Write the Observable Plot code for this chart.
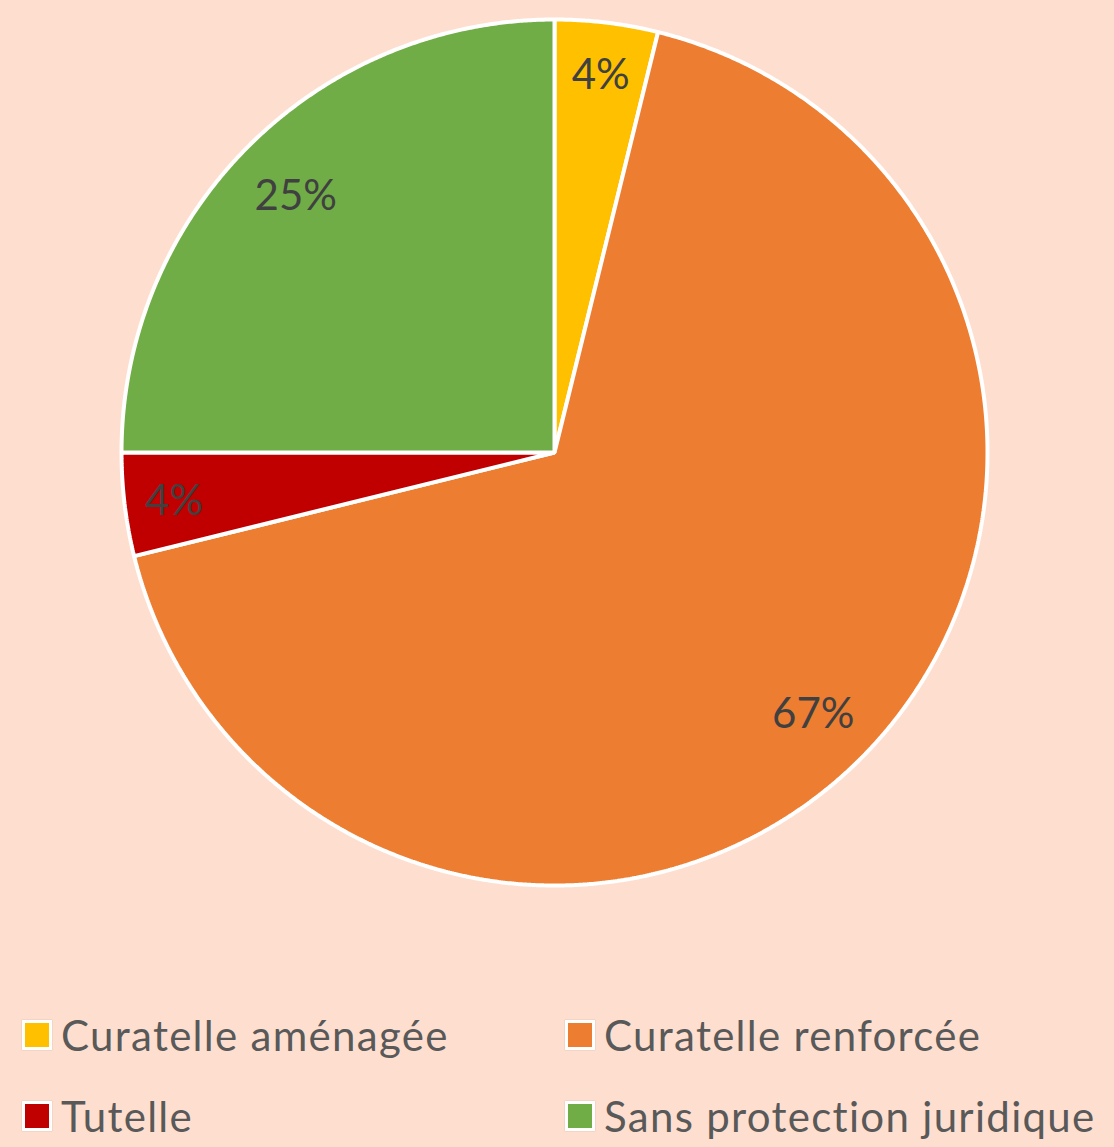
<!DOCTYPE html>
<html>
<head>
<meta charset="utf-8">
<script src="https://cdn.jsdelivr.net/npm/d3@7"></script>
<script src="https://cdn.jsdelivr.net/npm/@observablehq/plot@0.6"></script>
<style>
  html, body { margin: 0; padding: 0; background: #FEDFCF; }
  #wrap { position: relative; width: 1114px; height: 1147px; background: #FEDFCF; overflow: hidden; }
  #legend { position: relative; width: 1114px; height: 187px; font-family: Lato, "Open Sans", sans-serif; }
  .item { position: absolute; display: flex; align-items: center; font-size: 42px; letter-spacing: 1.3px; color: #595959; white-space: nowrap; }
  .sw { width: 24px; height: 24px; border: 3px solid #fff; box-sizing: content-box; margin-right: 9px; box-shadow: 0 0 1px rgba(0,0,0,0.25); }
</style>
</head>
<body>
<div id="wrap"><div id="chart"></div><div id="legend"></div></div>
<script>
const categories = ["Curatelle aménagée", "Curatelle renforcée", "Tutelle", "Sans protection juridique"];
const counts = [2, 35, 2, 13];
const labels = ["4%", "67%", "4%", "25%"];
const colors = ["#FFC000", "#ED7D31", "#C00000", "#70AD47"];

const W = 1114, H = 960, CX = 554, CY = 452, R = 433;

const data = categories.map((c, i) => ({category: c, value: counts[i], label: labels[i]}));
const total = d3.sum(counts);
const arcs = d3.pie().sort(null).value(d => d.value)(data);

// polygon vertices per slice (unit circle, angle clockwise from 12 o'clock)
const poly = [];
for (const a of arcs) {
  const cat = a.data.category;
  poly.push({category: cat, x: 0, y: 0});
  const n = Math.max(2, Math.ceil((a.endAngle - a.startAngle) / 0.005));
  for (let k = 0; k <= n; k++) {
    const t = a.startAngle + (a.endAngle - a.startAngle) * k / n;
    poly.push({category: cat, x: Math.sin(t), y: Math.cos(t)});
  }
  poly.push({category: cat, x: 0, y: 0});
}
const labelPts = arcs.map(a => {
  const m = (a.startAngle + a.endAngle) / 2;
  const f = a.data.value / total < 0.1 ? 0.885 : 0.845;
  return {x: f * Math.sin(m), y: f * Math.cos(m), label: a.data.label};
});

const chart = Plot.plot({
  width: W, height: H,
  marginTop: 0, marginRight: 0, marginBottom: 0, marginLeft: 0,
  style: {background: "transparent", overflow: "visible"},
  x: {domain: [-CX / R, (W - CX) / R], axis: null},
  y: {domain: [-(H - CY) / R, CY / R], axis: null},
  color: {domain: categories, range: colors},
  marks: [
    Plot.line(poly, {x: "x", y: "y", z: "category", fill: "category", stroke: "#fff", strokeWidth: 4, strokeLinejoin: "miter", curve: "linear-closed"}),
    Plot.text(labelPts, {x: "x", y: "y", text: "label", fill: "#404040", fontSize: 42, fontFamily: "Lato, 'Open Sans', sans-serif", dy: 3})
  ]
});
document.getElementById("chart").appendChild(chart);

const legend = document.getElementById("legend");
const pos = [[22, 1035], [565, 1035], [22, 1116], [565, 1116]];
categories.forEach((c, i) => {
  const it = document.createElement("div");
  it.className = "item";
  it.style.left = pos[i][0] + "px";
  it.style.top = (pos[i][1] - H - 26) + "px";
  it.style.height = "52px";
  it.innerHTML = `<span class="sw" style="background:${colors[i]}"></span><span>${c}</span>`;
  legend.appendChild(it);
});
</script>
</body>
</html>
